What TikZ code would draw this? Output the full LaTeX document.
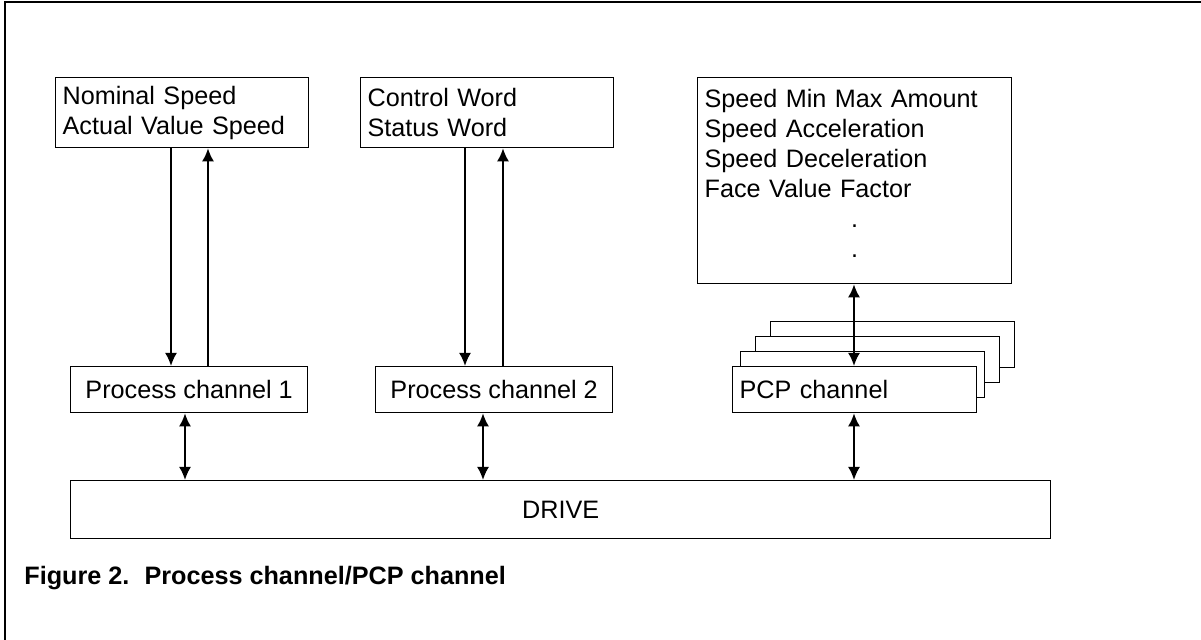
\documentclass[tikz,border=0pt]{standalone}
\usepackage{fontspec}
\setmainfont{Liberation Sans}
\usetikzlibrary{arrows.meta, positioning}

\begin{document}
\begin{tikzpicture}[x=0.5pt, y=-0.5pt, font=\fontsize{12.6}{15}\selectfont]
    % Define styles
    \tikzstyle{box} = [rectangle, draw, line width=0.65pt, anchor=north west, align=left, inner xsep=3.5pt, inner ysep=0pt]
    \tikzstyle{word} = [box, text width=119.5pt, minimum height=35pt]
    \tikzstyle{chan} = [box, align=center, minimum width=118.5pt, minimum height=23pt]
    \tikzstyle{pcp} = [box, fill=white, text width=115pt, minimum height=23pt]
    \tikzstyle{arrow} = [-{Latex[length=6.5pt,width=6pt]}, line width=1pt]
    \tikzstyle{both} = [{Latex[length=6.5pt,width=6pt]}-{Latex[length=6.5pt,width=6pt]}, line width=1pt]

    \useasboundingbox (0,0) rectangle (1201,640);
    \draw[line width=1.1pt] (5,640) -- (5,2) -- (1201,2);

    % Parameter boxes
    \node[word] (speed) at (55,77) {Nominal Speed\\Actual Value Speed};
    \node[word] (ctrl) at (360,77) {Control Word\\Status Word};
    \node[box, text width=150pt, minimum height=103pt] (param) at (697,77)
        {Speed Min Max Amount\\Speed Acceleration\\Speed Deceleration\\Face Value Factor\\\hspace*{73.2pt}.\\\hspace*{73.2pt}.\\[-7.8pt]\mbox{}};

    % Channels
    \node[chan] (pc1) at (70,366) {Process channel 1};
    \node[chan] (pc2) at (375,366) {Process channel 2};
    \node[pcp] (pcpc) at (770,321) {\mbox{}};
    \node[pcp] (pcpb) at (755,336) {\mbox{}};
    \node[pcp] (pcpa) at (740,351) {\mbox{}};
    \node[pcp] (pcp) at (732,366) {PCP channel};

    \node[box, align=center, minimum width=490pt, minimum height=29pt] (drive) at (70,480) {DRIVE};

    % Connections
    \draw[arrow] ([xshift=58pt]speed.south west) -- ([xshift=58pt]speed.south west |- pc1.north);
    \draw[arrow] ([xshift=76.5pt]speed.south west |- pc1.north) -- ([xshift=76.5pt]speed.south west);
    \draw[arrow] ([xshift=52.5pt]ctrl.south west) -- ([xshift=52.5pt]ctrl.south west |- pc2.north);
    \draw[arrow] ([xshift=71.5pt]ctrl.south west |- pc2.north) -- ([xshift=71.5pt]ctrl.south west);
    \draw[both] ([xshift=61pt]pcp.north west) -- ([xshift=61pt]pcp.north west |- param.south);
    \draw[both] ([xshift=57.5pt]pc1.south west) -- ([xshift=57.5pt]pc1.south west |- drive.north);
    \draw[both] ([xshift=54pt]pc2.south west) -- ([xshift=54pt]pc2.south west |- drive.north);
    \draw[both] ([xshift=61pt]pcp.south west) -- ([xshift=61pt]pcp.south west |- drive.north);

    % Caption
    \node[anchor=base west, inner sep=0pt, font=\fontsize{12.6}{15}\selectfont\bfseries] (caption) at (24,585)
        {Figure 2.\hspace{0.6em}Process channel/PCP channel};
\end{tikzpicture}
\end{document}
